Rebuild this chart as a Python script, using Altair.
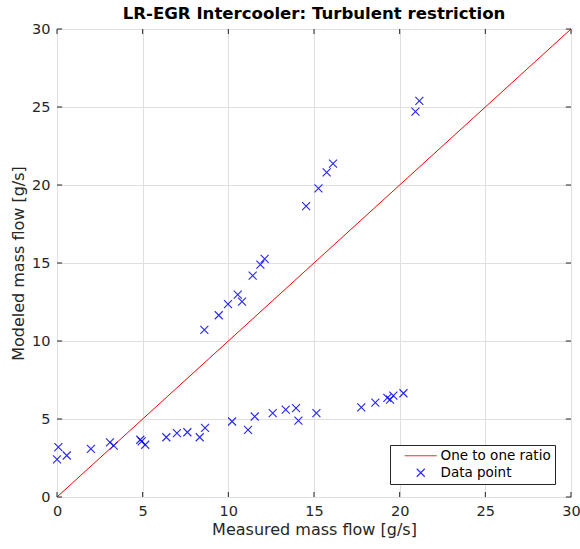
import altair as alt
import pandas as pd

# Measured vs modeled mass flow [g/s]
measured = [0.08, 0.0, 0.57, 1.98, 3.09, 3.31, 4.86, 4.94, 5.15, 6.38, 7.0, 7.61,
            8.33, 8.64, 10.22, 11.15, 11.54, 12.59, 13.35, 13.95, 14.09, 15.14,
            17.76, 18.58, 19.28, 19.44, 19.63, 20.22,
            8.6, 9.44, 9.98, 10.55, 10.8, 11.42, 11.87, 12.12, 14.54, 15.26,
            15.74, 16.11, 20.92, 21.15]
modeled = [3.19, 2.41, 2.66, 3.09, 3.50, 3.30, 3.67, 3.56, 3.35, 3.83, 4.09, 4.15,
           3.83, 4.43, 4.84, 4.31, 5.16, 5.37, 5.60, 5.69, 4.90, 5.37,
           5.75, 6.05, 6.35, 6.24, 6.50, 6.65,
           10.72, 11.65, 12.36, 12.97, 12.52, 14.19, 14.89, 15.27, 18.64, 19.79,
           20.81, 21.37, 24.71, 25.39]

ratio_line = [0, 30]
tick_values = [0, 5, 10, 15, 20, 25, 30]
series_names = ["One to one ratio", "Data point"]

FONT = "DejaVu Sans"
INK = "#262626"

points_df = pd.DataFrame({"measured": measured, "modeled": modeled,
                          "series": "Data point"})
line_df = pd.DataFrame({"measured": ratio_line, "modeled": ratio_line})
ticks_df = pd.DataFrame({"v": tick_values})

xscale = alt.Scale(domain=[0, 30], nice=False, zero=False)
yscale = alt.Scale(domain=[0, 30], nice=False, zero=False)

axis_common = dict(values=tick_values, ticks=False, domain=False, grid=True,
                   gridColor="#dfdfdf", labelFontSize=14.5, labelColor=INK,
                   labelPadding=7, labelFlush=False, titleFontSize=16,
                   titleColor=INK, titleFontWeight="normal", labelFont=FONT,
                   titleFont=FONT)
x_axis = alt.Axis(titlePadding=4, **axis_common)
y_axis = alt.Axis(titlePadding=5, **axis_common)

line = alt.Chart(line_df).mark_line(color="#ff0000", strokeWidth=1, clip=True).encode(
    x=alt.X("measured:Q", scale=xscale, axis=x_axis, title="Measured mass flow [g/s]"),
    y=alt.Y("modeled:Q", scale=yscale, axis=y_axis, title="Modeled mass flow [g/s]"),
)

x_path = "M-1,-1L1,1M-1,1L1,-1"
dash_path = "M-4,0L4,0"

legend = alt.Legend(title=None, orient="none", legendX=333, legendY=416,
                    labelFontSize=13.5, labelFont=FONT, labelColor="black",
                    strokeColor=INK, fillColor="white", padding=4,
                    rowPadding=2, symbolOffset=20, labelOffset=13,
                    symbolStrokeWidth=1.1, symbolSize=64)

pts = alt.Chart(points_df).mark_point(filled=False, strokeWidth=1.1, size=64,
                                      opacity=0.85).encode(
    x="measured:Q",
    y="modeled:Q",
    color=alt.Color("series:N",
                    scale=alt.Scale(domain=series_names, range=["#ff0000", "#0000ff"]),
                    legend=legend),
    shape=alt.Shape("series:N",
                    scale=alt.Scale(domain=series_names, range=[dash_path, x_path]),
                    legend=legend),
)

# inward ticks on all four sides of the box
tick_len = 0.32
bottom = alt.Chart(ticks_df).mark_rule(color=INK, strokeWidth=1).encode(
    x="v:Q", y=alt.datum(0), y2=alt.datum(tick_len))
top = alt.Chart(ticks_df).mark_rule(color=INK, strokeWidth=1).encode(
    x="v:Q", y=alt.datum(30), y2=alt.datum(30 - tick_len))
left = alt.Chart(ticks_df).mark_rule(color=INK, strokeWidth=1).encode(
    y="v:Q", x=alt.datum(0), x2=alt.datum(0.3))
right = alt.Chart(ticks_df).mark_rule(color=INK, strokeWidth=1).encode(
    y="v:Q", x=alt.datum(30), x2=alt.datum(29.7))

chart = alt.layer(line, bottom, top, left, right, pts).properties(
    width=514, height=468,
    title=alt.TitleParams("LR-EGR Intercooler: Turbulent restriction",
                          fontSize=16.6, fontWeight="bold", font=FONT,
                          color="black", offset=-2),
    autosize=alt.AutoSizeParams(type="none"),
    padding={"left": 57, "top": 29, "right": 9, "bottom": 52},
).configure_view(stroke=INK, strokeWidth=1).configure(background="white")

chart.save("out.html", embed_options={"renderer": "svg", "actions": False})
